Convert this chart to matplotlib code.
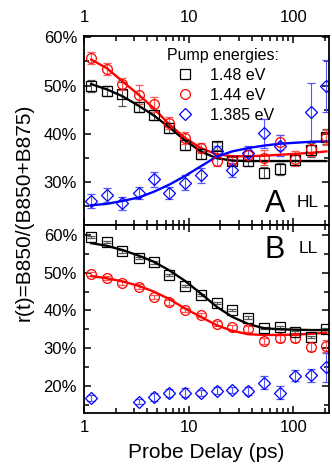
import matplotlib
matplotlib.use('Agg')
import matplotlib.pyplot as plt
from matplotlib.ticker import FuncFormatter, MultipleLocator, LogLocator, NullFormatter

plt.rcParams['font.family'] = ['Liberation Sans', 'DejaVu Sans']

# probe delays (ps)
t = [1.16, 1.64, 2.3, 3.3, 4.6, 6.5, 9.2, 13, 18.4, 26, 37, 52, 74, 104, 147, 208]

# panel A (HL), values in %
a_black = [49.9, 48.8, 48.2, 45.5, 43.9, 41.2, 37.6, 35.7, 37.4, 34.3, 34.3, 31.9, 32.6, 34.6, 36.6, 39.4]
a_black_err = [1.2, 1.0, 2.5, 1.0, 1.0, 1.0, 1.0, 1.0, 0.8, 0.8, 1.0, 1.2, 1.2, 1.2, 1.5, 1.5]
a_red = [55.7, 53.4, 50.3, 48.1, 46.1, 42.2, 39.1, 37.0, 34.3, 34.6, 35.5, 35.0, 38.2, 34.8, 36.8, 39.2]
a_red_err = [1.3, 1.2, 1.2, 2.0, 1.5, 1.2, 1.3, 1.0, 1.0, 0.8, 1.0, 1.5, 1.6, 1.5, 1.5, 1.5]
a_blue_t = [1.16, 1.64, 2.3, 3.3, 4.6, 6.5, 9.2, 13, 18.4, 26, 37, 52, 74, 147, 208]
a_blue = [26.0, 27.2, 25.5, 27.7, 30.5, 27.7, 29.8, 31.3, 36.3, 32.4, 35.9, 40.1, 37.5, 44.5, 49.9]
a_blue_err = [1.4, 1.4, 1.4, 1.2, 1.6, 1.2, 1.5, 1.5, 1.2, 1.4, 1.6, 3.0, 2.2, 6.0, 5.5]

# fitted curves, panel A
fa_t = [1.16, 1.64, 2.3, 3.3, 4.6, 6.5, 9.2, 13, 18.4, 26, 37, 52, 74, 104, 147, 208]
fa_black = [50.3, 49.2, 47.8, 45.8, 43.8, 41.3, 38.6, 36.3, 34.9, 34.4, 34.3, 34.3, 34.3, 34.3, 34.3, 34.3]
fa_red = [55.4, 53.6, 50.9, 48.1, 45.3, 41.9, 39.1, 37.0, 35.7, 35.3, 35.3, 35.4, 35.6, 35.8, 36.0, 36.3]
fa_blue = [25.1, 25.4, 26.0, 26.7, 27.9, 29.4, 31.2, 33.2, 35.2, 36.3, 37.0, 37.5, 37.9, 38.1, 38.3, 38.4]

# panel B (LL)
b_black = [59.4, 58.1, 55.6, 53.8, 52.7, 49.4, 46.5, 44.1, 41.9, 40.1, 38.1, 35.4, 35.7, 34.3, 33.0, 35.0]
b_red = [49.6, 48.5, 47.3, 46.3, 43.6, 42.1, 40.1, 38.8, 36.5, 35.5, 35.0, 31.9, 32.6, 32.6, 30.4, 30.6]
b_red_err = [0.5, 0.5, 0.5, 0.6, 0.6, 0.6, 0.6, 0.6, 0.6, 0.6, 0.8, 0.8, 1.0, 1.0, 1.2, 1.5]
b_blue_t = [1.16, 3.3, 4.6, 6.5, 9.2, 13, 18.4, 26, 37, 52, 74, 104, 147, 208]
b_blue = [16.9, 15.8, 17.1, 18.2, 18.2, 18.2, 18.8, 19.0, 18.7, 20.9, 18.2, 22.7, 22.8, 24.9]
b_blue_err = [0.8, 0.7, 1.0, 1.1, 1.2, 0.8, 0.8, 0.8, 1.0, 1.8, 1.7, 1.5, 1.8, 3.8]

fb_t = [1.16, 1.64, 2.3, 3.3, 4.6, 6.5, 9.2, 13, 18.4, 26, 37, 52, 74, 104, 147, 208]
fb_black = [57.8, 57.1, 56.0, 54.5, 52.9, 50.6, 47.8, 44.5, 41.0, 38.3, 36.4, 35.3, 35.0, 34.9, 34.8, 34.8]
fb_red = [49.1, 48.5, 47.7, 46.5, 45.0, 43.0, 40.5, 38.3, 36.1, 34.6, 33.7, 33.5, 33.5, 33.6, 33.8, 34.1]

pct = FuncFormatter(lambda v, p: '%d%%' % round(v))

fig = plt.figure(figsize=(3.32, 4.72), dpi=100)
axA = fig.add_axes([84 / 332, 1 - 225 / 472, 245 / 332, 189 / 472])
axB = fig.add_axes([84 / 332, 1 - 413 / 472, 245 / 332, 188 / 472])

ekw = dict(ls='none', mfc='none', mew=0.9, elinewidth=0.8, capsize=3, capthick=0.8)

axA.errorbar(t, a_black, yerr=a_black_err, marker='s', ms=7, color='black', ecolor='#555555', **ekw)
axA.errorbar(t, a_red, yerr=a_red_err, marker='o', ms=7, color='red', ecolor='#ff5555', **ekw)
axA.errorbar(a_blue_t, a_blue, yerr=a_blue_err, marker='D', ms=6, color='blue', ecolor='#5555ff', **ekw)
axA.plot(fa_t, fa_black, color='black', lw=1.7)
axA.plot(fa_t, fa_red, color='red', lw=1.7)
axA.plot(fa_t, fa_blue, color='blue', lw=1.7)

axB.errorbar(t, b_black, yerr=0.3, marker='s', ms=7, color='black', ecolor='#555555', **ekw)
axB.errorbar(t, b_red, yerr=b_red_err, marker='o', ms=7, color='red', ecolor='#ff5555', **ekw)
axB.errorbar(b_blue_t, b_blue, yerr=b_blue_err, marker='D', ms=6, color='blue', ecolor='#5555ff', **ekw)
axB.plot(fb_t, fb_black, color='black', lw=1.7)
axB.plot(fb_t, fb_red, color='red', lw=1.7)

for ax in (axA, axB):
    ax.set_xscale('log')
    ax.set_xlim(0.99, 220)
    ax.xaxis.set_major_locator(LogLocator(base=10))
    ax.xaxis.set_minor_locator(LogLocator(base=10, subs=range(2, 10)))
    ax.xaxis.set_minor_formatter(NullFormatter())
    ax.xaxis.set_major_formatter(FuncFormatter(lambda v, p: '%g' % v))
    ax.yaxis.set_major_locator(MultipleLocator(10))
    ax.yaxis.set_minor_locator(MultipleLocator(5))
    ax.yaxis.set_major_formatter(pct)
    ax.tick_params(which='both', direction='in', top=True, right=True, labelsize=12, width=1.1)
    ax.tick_params(which='major', length=5)
    ax.tick_params(which='minor', length=3.5)
    ax.tick_params(axis='y', pad=5)
    for s in ax.spines.values():
        s.set_linewidth(1.3)

axA.set_ylim(21, 60.3)
axB.set_ylim(12.85, 62.6)
axA.tick_params(axis='x', labeltop=True, labelbottom=False, pad=8)
axB.tick_params(axis='x', pad=5)
axA.set_yticks([30, 40, 50, 60])
axB.set_yticks([20, 30, 40, 50, 60])

axB.set_xlabel('Probe Delay (ps)', fontsize=15, labelpad=6)
fig.text(0.072, 0.551, 'r(t)=B850/(B850+B875)', rotation=90, fontsize=15, ha='center', va='center')

axA.text(0.78, 0.069, 'A', transform=axA.transAxes, fontsize=22, ha='center', va='baseline')
axA.text(0.915, 0.095, 'HL', transform=axA.transAxes, fontsize=12.5, ha='center', va='baseline')
axB.text(0.78, 0.824, 'B', transform=axB.transAxes, fontsize=22, ha='center', va='baseline')
axB.text(0.915, 0.851, 'LL', transform=axB.transAxes, fontsize=12.5, ha='center', va='baseline')

hs = [axA.plot([], [], ls='none', marker=m, mfc='none', color=c, ms=s, mew=0.9)[0]
      for m, c, s in (('s', 'black', 7), ('o', 'red', 7), ('D', 'blue', 6))]
axA.legend(hs, ['1.48 eV', '1.44 eV', '1.385 eV'], title='Pump energies:', frameon=False,
           loc='upper left', bbox_to_anchor=(0.339, 0.935), fontsize=11.5, title_fontsize=11.5,
           alignment='left', handlelength=2.2, handletextpad=0.5, labelspacing=0.3,
           borderpad=0, borderaxespad=0)

fig.savefig('out.png', dpi=100)
